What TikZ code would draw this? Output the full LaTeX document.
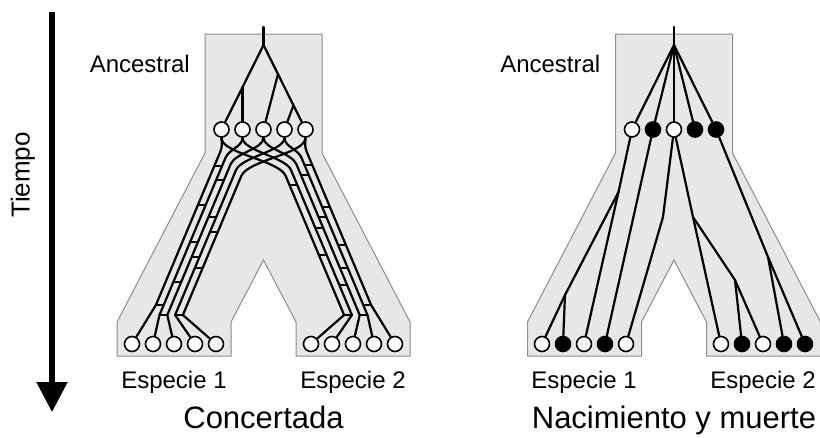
\documentclass[tikz,border=0pt]{standalone}
\usepackage{fontspec}
\setmainfont{Liberation Sans}
\usetikzlibrary{arrows.meta,calc}
\definecolor{shadeGray}{RGB}{230,231,232}
\definecolor{edgeGray}{RGB}{140,140,140}

\begin{document}
\begin{tikzpicture}[x=1pt,y=-1pt]
  \tikzstyle{shadeStyle}=[fill=shadeGray,draw=edgeGray,line width=1pt]
  \tikzstyle{geneLine}=[line width=2.2pt,line cap=round,line join=round]
  \tikzstyle{rung}=[line width=1.8pt]
  \tikzstyle{whiteGene}=[circle,draw=black,line width=1.6pt,fill=white,minimum size=15pt,inner sep=0pt]
  \tikzstyle{blackGene}=[circle,draw=black,line width=1.6pt,fill=black,minimum size=15pt,inner sep=0pt]
  \tikzstyle{labelStyle}=[font=\fontsize{24}{28}\selectfont,inner sep=0pt]
  \tikzstyle{titleStyle}=[font=\fontsize{31}{35}\selectfont,inner sep=0pt]
  \tikzstyle{timeArrow}=[line width=5.5pt,-{Triangle[width=30pt,length=30pt]}]

  \useasboundingbox (0,0) rectangle (820,437);

  % time axis
  \coordinate (timeStart) at (52,12);
  \coordinate (timeEnd) at (52,412);
  \draw[timeArrow] (timeStart) -- (timeEnd);
  \node[labelStyle,font=\fontsize{26}{30}\selectfont,rotate=90] (tiempo) at (23,175) {Tiempo};

  % gray backgrounds
  \draw[shadeStyle] (205,34) -- (322,34) -- (322,153) -- (410,322) -- (410,356) -- (296,356) -- (296,322)
    -- (263.5,260) -- (231,322) -- (231,356) -- (117,356) -- (117,322) -- (205,153) -- cycle;
  \draw[shadeStyle] (615.5,34) -- (732.5,34) -- (732.5,153) -- (820.5,322) -- (820.5,356) -- (706.5,356) -- (706.5,322)
    -- (674,260) -- (641.5,322) -- (641.5,356) -- (527.5,356) -- (527.5,322) -- (615.5,153) -- cycle;

  \begin{scope}
   % \node (concertada) ...
   \node[labelStyle,anchor=base east](ancestral) at (190,72) {Ancestral};
   \node[labelStyle,anchor=base](especie1) at (174,388) {Especie 1};
   \node[labelStyle,anchor=base](especie2) at (353,388) {Especie 2};
   \node[titleStyle,anchor=base](concertada) at (263.5,428) {Concertada};

   \node[whiteGene](top1) at (221.5,129.5) {};
   \node[whiteGene](top2) at (242.5,129.5) {};
   \node[whiteGene](top3) at (263.5,129.5) {};
   \node[whiteGene](top4) at (284.5,129.5) {};
   \node[whiteGene](top5) at (305.5,129.5) {};

   \node[whiteGene](spa1) at (132,344) {};
   \node[whiteGene](spa2) at (153,344) {};
   \node[whiteGene](spa3) at (174,344) {};
   \node[whiteGene](spa4) at (195,344) {};
   \node[whiteGene](spa5) at (216,344) {};

   \node[whiteGene](spb1) at (311,344) {};
   \node[whiteGene](spb2) at (332,344) {};
   \node[whiteGene](spb3) at (353,344) {};
   \node[whiteGene](spb4) at (374,344) {};
   \node[whiteGene](spb5) at (395,344) {};

   \coordinate (stem) at (263.5,27);
   \coordinate (root) at (263.5,45);
   \draw[geneLine] (stem) -- (root);
   \draw[geneLine] (root) -- (top1);
   \draw[geneLine] (root) -- (top5);
   \coordinate (split1) at ($(root)!0.5!(top1)$);
   \coordinate (split2) at ($(root)!0.345!(top5)$);
   \coordinate (split3) at ($(root)!0.714!(top5)$);
   \draw[geneLine] (split1) -- (top2);
   \draw[geneLine] (split2) -- (top3);
   \draw[geneLine] (split3) -- (top4);

   % copies going to species 1
   \coordinate (l1top) at (220.2,152);  \coordinate (l1end) at (155.9,305);
   \coordinate (l2top) at (225.4,158);  \coordinate (l2end) at (159.5,315);
   \coordinate (l3top) at (230.7,164);  \coordinate (l3end) at (167.3,315);
   \coordinate (l4top) at (236.0,170);  \coordinate (l4end) at (175.1,315);
   \coordinate (l5top) at (241.3,176);  \coordinate (l5end) at (182.9,315);
   \draw[geneLine] (top1.south) .. controls +(0,6) and +(2.5,-6) .. (l1top) -- (l1end) -- (spa1);
   \draw[geneLine] (top2.south) .. controls +(0,9) and +(3.6,-9) .. (l2top) -- (l2end) -- (spa2);
   \draw[geneLine] (top3.south) .. controls +(0,11) and +(4.6,-11) .. (l3top) -- (l3end) -- (spa3);
   \draw[geneLine] (top4.south) .. controls +(0,13) and +(5.5,-13) .. (l4top) -- (l4end) -- (spa4);
   \draw[geneLine] (top5.south) .. controls +(0,16) and +(6.6,-16) .. (l5top) -- (l5end) -- (spa5);

   % copies going to species 2
   \coordinate (r1top) at (285.7,176);  \coordinate (r1end) at (344.1,315);
   \coordinate (r2top) at (291.0,170);  \coordinate (r2end) at (351.9,315);
   \coordinate (r3top) at (296.3,164);  \coordinate (r3end) at (359.7,315);
   \coordinate (r4top) at (301.6,158);  \coordinate (r4end) at (367.5,315);
   \coordinate (r5top) at (306.8,152);  \coordinate (r5end) at (371.1,305);
   \draw[geneLine] (top1.south) .. controls +(0,16) and +(-6.6,-16) .. (r1top) -- (r1end) -- (spb1);
   \draw[geneLine] (top2.south) .. controls +(0,13) and +(-5.5,-13) .. (r2top) -- (r2end) -- (spb2);
   \draw[geneLine] (top3.south) .. controls +(0,11) and +(-4.6,-11) .. (r3top) -- (r3end) -- (spb3);
   \draw[geneLine] (top4.south) .. controls +(0,9) and +(-3.6,-9) .. (r4top) -- (r4end) -- (spb4);
   \draw[geneLine] (top5.south) .. controls +(0,6) and +(-2.5,-6) .. (r5top) -- (r5end) -- (spb5);

   % conversions, species 1
   \draw[rung] (214.3,166) -- (222.1,166);
   \draw[rung] (216.2,180) -- (224.0,180);
   \draw[rung] (197.9,205) -- (205.7,205);
   \draw[rung] (208.5,217) -- (216.3,217);
   \draw[rung] (210.0,232) -- (217.8,232);
   \draw[rung] (190.2,242) -- (198.0,242);
   \draw[rung] (191.7,257) -- (199.5,257);
   \draw[rung] (194.8,268) -- (202.6,268);
   \draw[rung] (173.4,282) -- (181.2,282);
   \draw[rung] (155.9,305) -- (163.7,305);
   \draw[rung] (159.5,315) -- (167.3,315);
   \draw[rung] (175.1,315) -- (182.9,315);

   % conversions, species 2
   \draw[rung] (304.5,165) -- (312.3,165);
   \draw[rung] (300.9,175) -- (308.7,175);
   \draw[rung] (289.5,185) -- (297.3,185);
   \draw[rung] (322.1,207) -- (329.9,207);
   \draw[rung] (318.5,217) -- (326.3,217);
   \draw[rung] (315.4,228) -- (323.2,228);
   \draw[rung] (338.1,245) -- (345.9,245);
   \draw[rung] (318.9,255) -- (326.7,255);
   \draw[rung] (340.0,268) -- (347.8,268);
   \draw[rung] (339.3,285) -- (347.1,285);
   \draw[rung] (363.3,305) -- (371.1,305);
   \draw[rung] (344.1,315) -- (351.9,315);
   \draw[rung] (359.7,315) -- (367.5,315);
  \end{scope}

  \begin{scope}
   \node[labelStyle,anchor=base east](ancestralprime) at (600.5,72) {Ancestral};
   \node[labelStyle,anchor=base](especie1prime) at (584,388) {Especie 1};
   \node[labelStyle,anchor=base](especie2prime) at (763,388) {Especie 2};
   \node[titleStyle,anchor=base](nacimiento) at (674,428) {Nacimiento y muerte};

   \node[whiteGene](top1prime) at (632,129.5) {};
   \node[blackGene](top2prime) at (653,129.5) {};
   \node[whiteGene](top3prime) at (674,129.5) {};
   \node[blackGene](top4prime) at (695,129.5) {};
   \node[blackGene](top5prime) at (716,129.5) {};

   \node[whiteGene](spa1prime) at (542,344) {};
   \node[blackGene](spa2prime) at (563,344) {};
   \node[whiteGene](spa3prime) at (584,344) {};
   \node[blackGene](spa4prime) at (605,344) {};
   \node[whiteGene](spa5prime) at (626,344) {};

   \node[whiteGene](spb1prime) at (721,344) {};
   \node[blackGene](spb2prime) at (742,344) {};
   \node[whiteGene](spb3prime) at (763,344) {};
   \node[blackGene](spb4prime) at (784,344) {};
   \node[blackGene](spb5prime) at (805,344) {};

   \coordinate (stemprime) at (674,27);
   \coordinate (rootprime) at (674,45);
   \draw[geneLine] (stemprime) -- (rootprime);
   \draw[geneLine] (rootprime) -- (top1prime);
   \draw[geneLine] (rootprime) -- (top2prime);
   \draw[geneLine] (rootprime) -- (top3prime);
   \draw[geneLine] (rootprime) -- (top4prime);
   \draw[geneLine] (rootprime) -- (top5prime);

   \coordinate (p1) at (618.5,192);
   \coordinate (p2) at (565,295);
   \coordinate (k1) at (663,217);
   \coordinate (p3) at (693,217);
   \coordinate (p4) at (735,280);
   \coordinate (p5) at (768,257);
   \draw[geneLine] (top1prime) -- (p1) -- (spa3prime);
   \draw[geneLine] (p1) -- (p2) -- (spa1prime);
   \draw[geneLine] (p2) -- (spa2prime);
   \draw[geneLine] (top2prime) -- (spa4prime);
   \draw[geneLine] (top3prime) -- (k1) -- (spa5prime);
   \draw[geneLine] (top3prime) -- (p3) -- (spb1prime);
   \draw[geneLine] (p3) -- (p4) -- (spb3prime);
   \draw[geneLine] (p4) -- (spb2prime);
   \draw[geneLine] (top5prime) -- (p5) -- (spb5prime);
   \draw[geneLine] (p5) -- (spb4prime);
  \end{scope}

\end{tikzpicture}
\end{document}
